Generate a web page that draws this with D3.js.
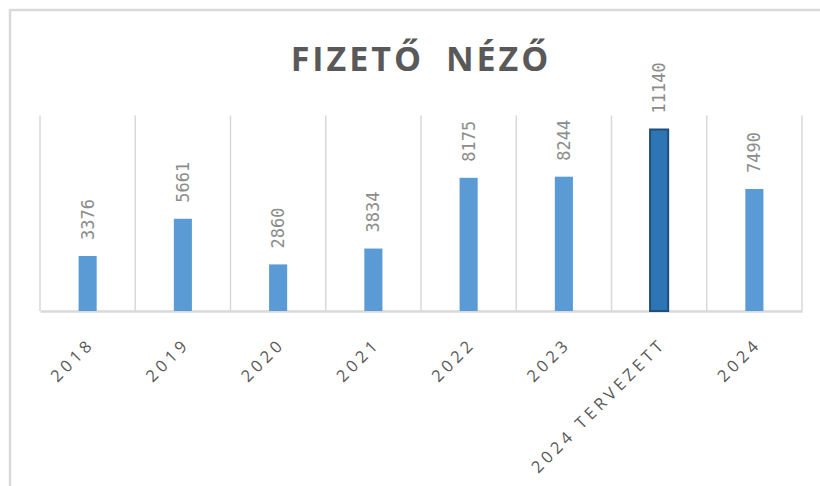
<!DOCTYPE html>
<html lang="hu">
<head>
<meta charset="utf-8">
<title>Fizető néző</title>
<script src="https://d3js.org/d3.v7.min.js"></script>
<style>
  body { margin: 0; background: #fff; }
  svg { display: block; }
</style>
</head>
<body>
<div class="chart"></div>
<script>
const categories = ["2018", "2019", "2020", "2021", "2022", "2023", "2024 TERVEZETT", "2024"];
const values = [3376, 5661, 2860, 3834, 8175, 8244, 11140, 7490];
const highlighted = ["2024 TERVEZETT"];
const yMax = 12000;

const W = 820, H = 486;
const plot = { left: 40, right: 802, top: 115.5, bottom: 311 };

const svg = d3.select(".chart").append("svg")
  .attr("width", W)
  .attr("height", H);

// chart frame (only top and left edges are visible in the window)
svg.append("rect")
  .attr("x", 10).attr("y", 10)
  .attr("width", W + 20).attr("height", H + 20)
  .attr("fill", "none")
  .attr("stroke", "#d9d9d9")
  .attr("stroke-width", 2.5)

svg.append("text")
  .attr("x", 421)
  .attr("y", 71)
  .attr("text-anchor", "middle")
  .style("font-family", "'Open Sans', sans-serif")
  .style("font-weight", "bold")
  .style("font-size", "34px")
  .style("letter-spacing", "3px")
  .style("word-spacing", "10px")
  .style("fill", "#595959")
  .text("FIZETŐ NÉZŐ")

const x = d3.scaleBand()
  .domain(categories)
  .range([plot.left, plot.right])
  .padding(0)

const y = d3.scaleLinear()
  .domain([0, yMax])
  .range([plot.bottom, plot.top])

const barW = x.step() * 0.19

// vertical gridlines between categories
svg.append("g")
  .selectAll("line")
  .data(categories.concat(["__end"]))
  .join("line")
  .attr("x1", (d, i) => plot.left + i * x.step())
  .attr("x2", (d, i) => plot.left + i * x.step())
  .attr("y1", y(yMax))
  .attr("y2", y(0))
  .attr("stroke", "#d9d9d9")
  .attr("stroke-width", 1.5)

// baseline axis
const xAxis = g => g.attr("transform", `translate(0,${y(0)})`)
  .call(d3.axisBottom(x).tickSize(0).tickFormat(""))
  .call(g => g.select(".domain").attr("stroke", "#d9d9d9").attr("stroke-width", 2.5))

svg.append("g").call(xAxis)

svg.append("g")
  .selectAll("rect")
  .data(categories)
  .join("rect")
  .attr("x", d => x(d) + x.bandwidth() / 2 - barW / 2)
  .attr("y", (d, i) => y(values[i]))
  .attr("width", barW)
  .attr("height", (d, i) => y(0) - y(values[i]))
  .attr("fill", d => highlighted.includes(d) ? "#2e75b6" : "#5b9bd5")
  .attr("stroke", d => highlighted.includes(d) ? "#1f4e79" : "none")
  .attr("stroke-width", 2)

// value labels, rotated
svg.append("g")
  .selectAll("text")
  .data(categories)
  .join("text")
  .attr("transform", (d, i) => `translate(${x(d) + x.bandwidth() / 2},${y(values[i]) - 16}) rotate(-90)`)
  .attr("dy", "0.35em")
  .attr("text-anchor", "start")
  .style("font-family", "'DejaVu Sans Mono', monospace")
  .style("font-size", "17px")
  .style("fill", "#8c8c8c")
  .text((d, i) => values[i])

// category labels at -45 degrees
svg.append("g")
  .selectAll("text")
  .data(categories)
  .join("text")
  .attr("transform", d => `translate(${x(d) + x.bandwidth() / 2 + 8},${y(0) + 34}) rotate(-45)`)
  .attr("text-anchor", "end")
  .style("font-family", "'Open Sans', sans-serif")
  .style("font-size", "16.5px")
  .style("letter-spacing", "4px")
  .style("fill", "#595959")
  .text(d => d)
</script>
</body>
</html>
